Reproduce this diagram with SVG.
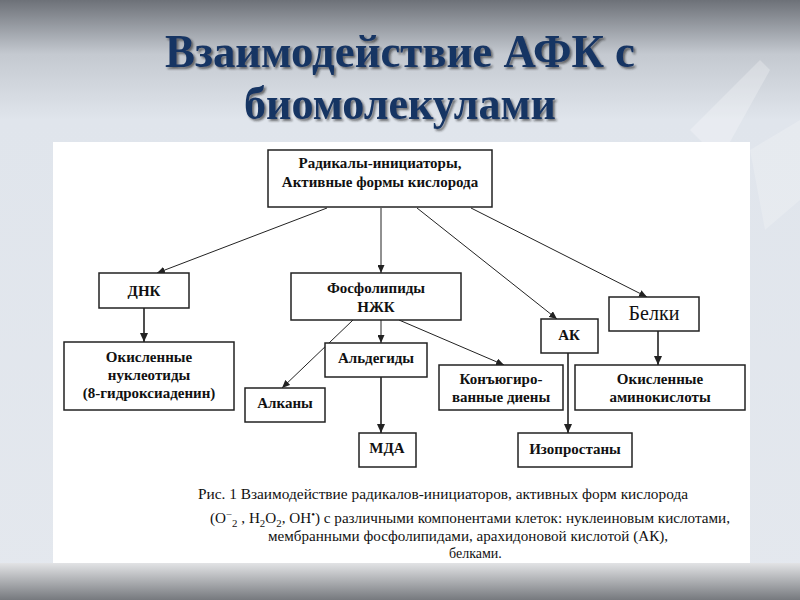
<svg xmlns="http://www.w3.org/2000/svg" width="800" height="600" viewBox="0 0 800 600">
<defs>
<linearGradient id="bg" x1="0" y1="0" x2="0" y2="1">
<stop offset="0" stop-color="#6d7178"/>
<stop offset="0.09" stop-color="#c4c9d0"/>
<stop offset="0.2" stop-color="#e0e5ec"/>
<stop offset="1" stop-color="#e4e8ee"/>
</linearGradient>
<linearGradient id="bot" x1="0" y1="0" x2="0" y2="1">
<stop offset="0" stop-color="#e2e3e5"/>
<stop offset="1" stop-color="#76797e"/>
</linearGradient>
<filter id="sh" x="-5%" y="-20%" width="110%" height="140%">
<feDropShadow dx="2" dy="2" stdDeviation="0.8" flood-color="#1a1a22" flood-opacity="0.6"/>
</filter>
<marker id="ah" markerWidth="8" markerHeight="7" refX="8" refY="3.5" orient="auto" markerUnits="userSpaceOnUse">
<path d="M0,0 L8,3.5 L0,7 Z" fill="#222"/>
</marker>
<marker id="ahb" markerWidth="9" markerHeight="8" refX="9" refY="4" orient="auto" markerUnits="userSpaceOnUse">
<path d="M0,0 L9,4 L0,8 Z" fill="#222"/>
</marker>
</defs>
<style>
.box{fill:#fff;stroke:#222;stroke-width:1.5}
.t{font-family:'Liberation Serif','DejaVu Serif','Times New Roman',serif;font-size:15px;font-weight:bold;fill:#111;text-anchor:middle}
.r{font-weight:normal}
.c{font-family:'Liberation Serif','DejaVu Serif','Times New Roman',serif;font-size:14px;fill:#111}
.ln{stroke:#222;stroke-width:1;fill:none;marker-end:url(#ah)}
.lb{stroke:#222;stroke-width:1.6;fill:none;marker-end:url(#ahb)}
.ti{font-family:'Liberation Serif','DejaVu Serif','Times New Roman',serif;font-size:47px;font-weight:bold;text-anchor:middle;fill:#173463;filter:url(#sh)}
</style>
<rect x="0" y="0" width="800" height="600" fill="url(#bg)"/>
<polygon points="690,130 760,60 770,70 720,160" fill="#ffffff" opacity="0.25"/>
<polygon points="750,150 800,120 800,200 765,230" fill="#ffffff" opacity="0.2"/>
<rect x="0" y="563" width="800" height="37" fill="url(#bot)"/>
<g id="title">
<text class="ti" x="400" y="67" textLength="470" lengthAdjust="spacingAndGlyphs">Взаимодействие АФК с</text>
<text class="ti" x="400" y="119" textLength="312" lengthAdjust="spacingAndGlyphs">биомолекулами</text>
</g>
<rect x="53" y="142" width="697" height="421" fill="#ffffff"/>
<g id="connectors">
<path class="ln" d="M327,208 L157,273"/>
<path class="ln" d="M381,208 L381,273"/>
<path class="ln" d="M417,208 L557,319"/>
<path class="ln" d="M471,208 L647,297"/>
<path class="lb" d="M144,308 L144,342"/>
<path class="ln" d="M353,320 L282,388"/>
<path class="ln" d="M381,320 L381,343"/>
<path class="ln" d="M399,320 L504,365"/>
<path class="lb" d="M381,377 L381,433"/>
<path class="lb" d="M568,353 L568,433"/>
<path class="lb" d="M658,331 L658,365"/>
</g>
<g id="n-top"><rect class="box" x="268" y="150" width="224" height="57"/>
<text class="t" x="380" y="168">Радикалы-инициаторы,</text>
<text class="t" x="380" y="187">Активные формы кислорода</text></g>
<g id="n-dnk"><rect class="box" x="99" y="273" width="90" height="35"/>
<text class="t" x="144" y="296">ДНК</text></g>
<g id="n-phos"><rect class="box" x="291" y="273" width="170" height="47"/>
<text class="t" x="376" y="293">Фосфолипиды</text>
<text class="t" x="376" y="312">НЖК</text></g>
<g id="n-ak"><rect class="box" x="541" y="319" width="57" height="34"/>
<text class="t" x="569" y="340">АК</text></g>
<g id="n-belki"><rect class="box" x="609" y="297" width="90" height="34"/>
<text class="t r" x="654" y="320" style="font-size:20px">Белки</text></g>
<g id="n-oknuc"><rect class="box" x="64" y="342" width="170" height="68"/>
<text class="t" x="149" y="362">Окисленные</text>
<text class="t" x="149" y="380">нуклеотиды</text>
<text class="t" x="149" y="398">(8-гидроксиаденин)</text></g>
<g id="n-ald"><rect class="box" x="325" y="343" width="102" height="34"/>
<text class="t" x="376" y="363">Альдегиды</text></g>
<g id="n-alk"><rect class="box" x="245" y="388" width="80" height="34"/>
<text class="t" x="285" y="408">Алканы</text></g>
<g id="n-dien"><rect class="box" x="439" y="365" width="124" height="45"/>
<text class="t" x="501" y="384">Конъюгиро-</text>
<text class="t" x="501" y="402">ванные диены</text></g>
<g id="n-okam"><rect class="box" x="575" y="365" width="170" height="45"/>
<text class="t" x="660" y="384">Окисленные</text>
<text class="t" x="660" y="402">аминокислоты</text></g>
<g id="n-mda"><rect class="box" x="359" y="433" width="57" height="34"/>
<text class="t" x="387" y="453">МДА</text></g>
<g id="n-izo"><rect class="box" x="518" y="433" width="114" height="34"/>
<text class="t" x="575" y="454">Изопростаны</text></g>
<g id="caption">
<text class="c" x="198" y="499" textLength="490" lengthAdjust="spacingAndGlyphs">Рис. 1 Взаимодействие радикалов-инициаторов, активных форм кислорода</text>
<text class="c" x="210" y="523" textLength="520" lengthAdjust="spacingAndGlyphs">(O<tspan font-size="10" dy="-5">−</tspan><tspan font-size="10" dy="9">2</tspan><tspan dy="-4"> , H</tspan><tspan font-size="10" dy="4">2</tspan><tspan dy="-4">O</tspan><tspan font-size="10" dy="4">2</tspan><tspan dy="-4">, OH</tspan><tspan font-size="10" dy="-5">•</tspan><tspan dy="5">) с различными компонентами клеток: нуклеиновым кислотами,</tspan></text>
<text class="c" x="268" y="541" textLength="400" lengthAdjust="spacingAndGlyphs">мембранными фосфолипидами, арахидоновой кислотой (АК),</text>
<text class="c" x="449" y="558">белками.</text>
</g>
</svg>
